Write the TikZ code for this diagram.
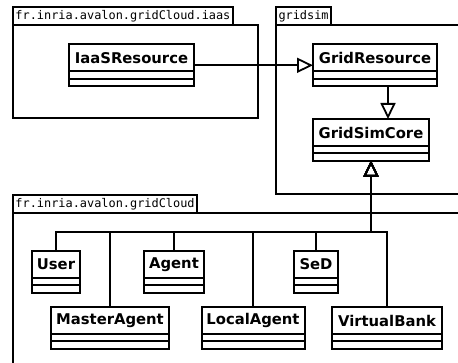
\documentclass[tikz,border=0pt]{standalone}
\usepackage{fontspec}
\newfontfamily\clsfont{DejaVu Sans}
\newfontfamily\pkgfont{DejaVu Sans Mono}
\usetikzlibrary{arrows.meta}
\tikzset{
 pkgtab/.style={draw, line width=1.8pt, inner xsep=2.5pt, inner ysep=0pt, minimum height=18pt, anchor=south west, outer sep=0pt, font=\pkgfont\fontsize{11.9pt}{13pt}\selectfont},
 pkgbody/.style={draw, line width=1.8pt, inner sep=0pt, anchor=north west, outer sep=0pt},
 clsname/.style={draw, line width=2pt, minimum height=27pt, inner sep=0pt, anchor=north west, outer sep=0pt, font=\clsfont\bfseries\fontsize{14.8pt}{16pt}\selectfont},
 clscomp/.style={draw, line width=2pt, minimum height=7.3pt, inner sep=0pt, anchor=north west, outer sep=0pt},
 gen/.style={line width=1.8pt, -{Triangle[open, length=16pt, width=15pt, line width=1.8pt]}},
 trunk/.style={line width=2.2pt},
}
\newcommand\umlcls[5]{%
 \node[clsname, minimum width=#4pt] (#1) at (#2,#3) {#5};
 \node[clscomp, minimum width=#4pt] (#1a) at (#1.south west) {};
 \node[clscomp, minimum width=#4pt] (#1b) at (#1a.south west) {};
}
\begin{document}
\begin{tikzpicture}[x=1pt,y=-1pt]
\useasboundingbox (0,0) rectangle (458,363);
\clip (0,0) rectangle (458,363);
% packages
\node[pkgbody, minimum width=245pt, minimum height=93pt] (iaaspkg) at (13,25) {};
\node[pkgtab] (iaastab) at (iaaspkg.north west) {fr.inria.avalon.gridCloud.iaas};
\node[pkgbody, minimum width=200pt, minimum height=169pt] (simpkg) at (276,25) {};
\node[pkgtab] (simtab) at (simpkg.north west) {gridsim};
\node[pkgbody, minimum width=460pt, minimum height=170pt] (cloudpkg) at (13,213) {};
\node[pkgtab] (cloudtab) at (cloudpkg.north west) {fr.inria.avalon.gridCloud};
% classes
\umlcls{iaas}{69}{44.5}{125}{IaaSResource}
\umlcls{res}{313}{44.5}{124}{GridResource}
\umlcls{core}{313}{119}{116}{GridSimCore}
\umlcls{user}{32}{251}{48}{User}
\umlcls{agent}{144}{251}{60}{Agent}
\umlcls{sed}{294}{251}{44}{SeD}
\umlcls{master}{51}{307}{118}{MasterAgent}
\umlcls{local}{201.5}{307}{103}{LocalAgent}
\umlcls{bank}{332}{307}{110}{VirtualBank}
% connectors
\draw[gen] ([yshift=-7.3pt]iaas.east) -- ([yshift=-7.3pt]res.west);
\coordinate (rx) at (388,0);
\draw[gen] (resb.south -| rx) -- (core.north -| rx);
\coordinate (hub) at (371,232);
\foreach \c in {user,master,agent,local,sed,bank}
  \draw[gen] (\c.north) |- (hub) -- (coreb.south);
\draw[trunk] (user.north |- hub) -- (hub) -- ([yshift=-16pt]coreb.south);
\end{tikzpicture}
\end{document}
